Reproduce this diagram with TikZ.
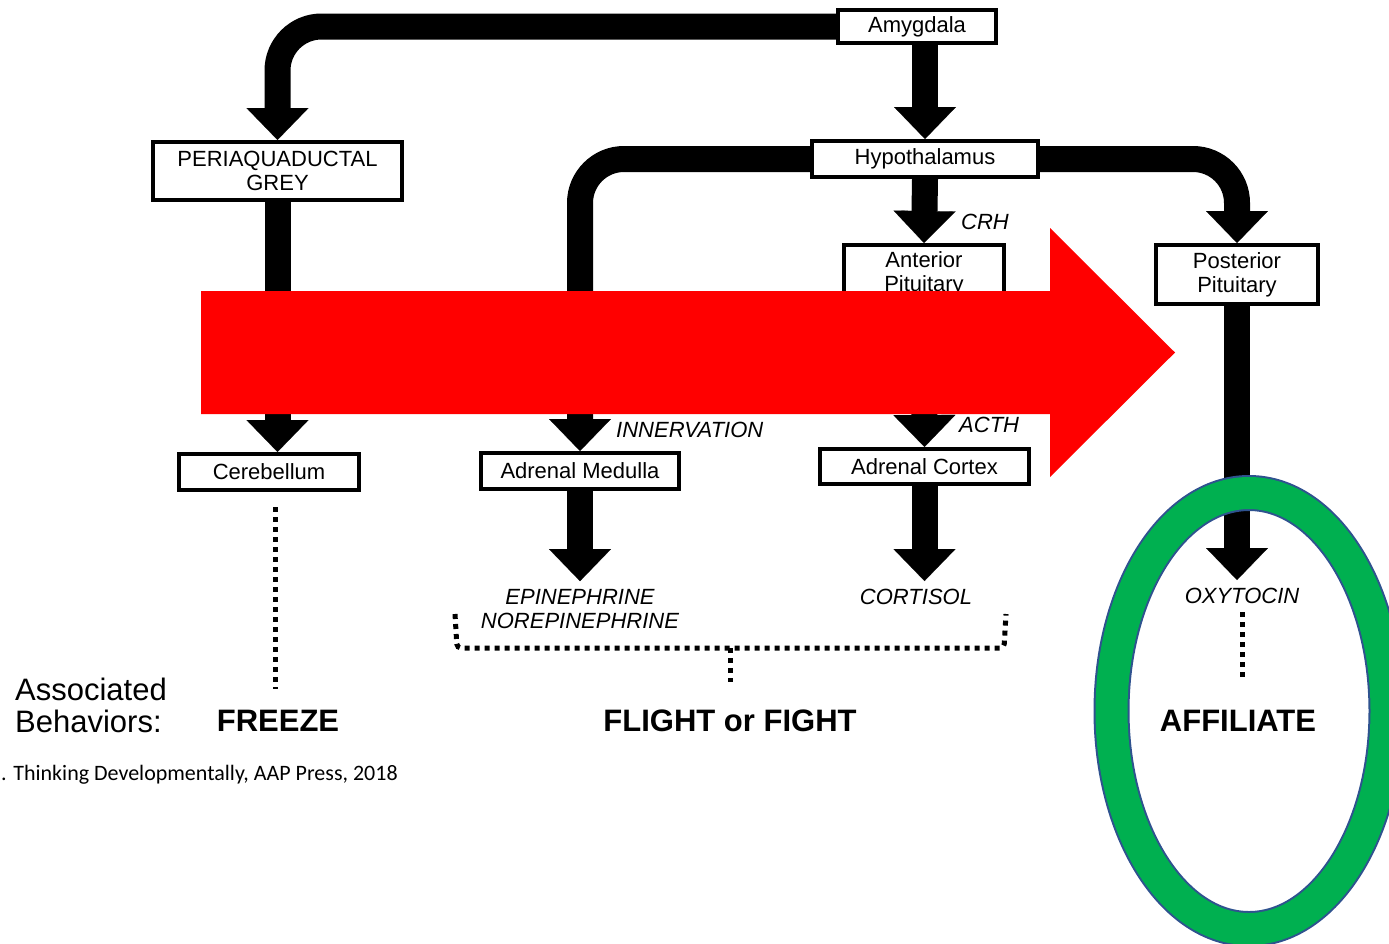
\documentclass[tikz,border=0pt]{standalone}
\usepackage{fontspec}
\setmainfont{Liberation Sans}
\newfontfamily\citefont{Carlito}
\usetikzlibrary{arrows.meta}
\definecolor{ringgreen}{HTML}{00B050}
\definecolor{ringedge}{HTML}{2F528F}
\definecolor{bigred}{HTML}{FF0000}
\begin{document}
\begin{tikzpicture}[x=1pt,y=-1pt,
  stage/.style={draw, line width=4pt, fill=white, inner sep=0pt, align=center,
                font=\fontsize{22}{24}\selectfont},
  thickarrow/.style={line width=26pt,
                     -{Triangle[length=32pt,width=62pt,line width=0.1pt]}},
  elbow/.style={thickarrow, rounded corners=44pt},
  hormone/.style={font=\fontsize{22}{24}\selectfont\itshape, inner sep=0pt, align=center},
  behaviour/.style={font=\fontsize{31}{32}\selectfont\bfseries, inner sep=0pt},
  dotline/.style={line width=5pt, dash pattern=on 5pt off 5pt},
]
\clip (0,0) rectangle (1389,943);
\fill[white] (0,0) rectangle (1389,943);

% brain and endocrine stages
\node[stage, minimum width=158pt, minimum height=33pt] (amy) at (917,26.5) {Amygdala};
\node[stage, minimum width=226pt, minimum height=36pt] (hyp) at (925,159) {Hypothalamus};
\node[stage, minimum width=249pt, minimum height=58pt] (pag) at (277.5,171) {PERIAQUADUCTAL\\GREY};
\node[stage, minimum width=160pt, minimum height=58pt] (ap) at (924,274) {Anterior\\Pituitary};
\node[stage, minimum width=162pt, minimum height=59pt] (pp) at (1237,274.5) {Posterior\\Pituitary};
\node[stage, minimum width=180pt, minimum height=36pt] (cer) at (269,472) {Cerebellum};
\node[stage, minimum width=198pt, minimum height=36pt] (med) at (580,471) {Adrenal Medulla};
\node[stage, minimum width=209pt, minimum height=35pt] (ac) at (924.5,466.5) {Adrenal Cortex};

% hormones
\node[hormone] (epi) at (580,609) {EPINEPHRINE\\NOREPINEPHRINE};
\node[hormone] (cort) at (916,597) {CORTISOL};
\node[hormone] (oxy) at (1242,596) {OXYTOCIN};

% arrow labels
\node[hormone, anchor=west] (crh) at (961,222) {CRH};
\node[hormone, anchor=west] (innerv) at (616,430) {INNERVATION};
\node[hormone, anchor=west] (acth) at (959,425) {ACTH};

% pathways
\draw[elbow] (amy.west) -| (pag.north);
\draw[thickarrow] (hyp.north |- amy.south) -- (hyp.north);
\draw[elbow] (hyp.west) -| (med.north);
\draw[elbow] (hyp.east) -| (pp.north);
\draw[thickarrow] (hyp.south) -- (ap.north);
\draw[thickarrow] (ap.south) -- (ac.north);
\draw[thickarrow] (pag.south) -- (pag.south |- cer.north);
\draw[thickarrow, shorten >=8pt] (med.south) -- (epi.north);
\draw[thickarrow, shorten >=8pt] (ac.south) -- (ac.south |- cort.north);
\draw[thickarrow, shorten >=8pt] (pp.south) -- (pp.south |- oxy.north);

% behaviours
\node[font=\fontsize{31}{32}\selectfont, align=left, anchor=west, inner sep=0pt] (assoc) at (15,705) {Associated\\Behaviors:};
\node[behaviour] (freeze) at (278,721) {FREEZE};
\node[behaviour] (fof) at (730,721) {FLIGHT or FIGHT};
\node[behaviour] (affil) at (1238,721) {AFFILIATE};

% dotted links to behaviours
\coordinate (frzTop) at (275,507);
\coordinate (frzEnd) at (275,689);
\draw[dotline] (frzTop) -- (frzEnd);
\coordinate (bL) at (455,614);
\coordinate (bR) at (1006,614);
\coordinate (bM) at (730,648);
\coordinate (fofTop) at (730,682);
\draw[dotline, rounded corners=4pt] (bL) -- (457,648) -- (1004,648) -- (bR);
\draw[dotline] (bM) -- (fofTop);
\coordinate (oxTop) at (1242,612);
\coordinate (oxEnd) at (1242,680);
\draw[dotline] (oxTop) -- (oxEnd);

% source line
\node[font=\citefont\fontsize{22}{24}\selectfont, anchor=west, inner sep=0pt] (cite) at (1,775)
  {. Thinking Developmentally, AAP Press, 2018};

% big red block arrow
\fill[bigred] (201,291) -- (1050,291) -- (1050,228) -- (1175,352.5)
  -- (1050,477) -- (1050,414) -- (201,414) -- cycle;

% green ring
\draw[ringedge, line width=36pt] (1249,711) ellipse [x radius=137.5pt, y radius=218pt];
\draw[ringgreen, line width=32pt] (1249,711) ellipse [x radius=137.5pt, y radius=218pt];
\end{tikzpicture}
\end{document}
